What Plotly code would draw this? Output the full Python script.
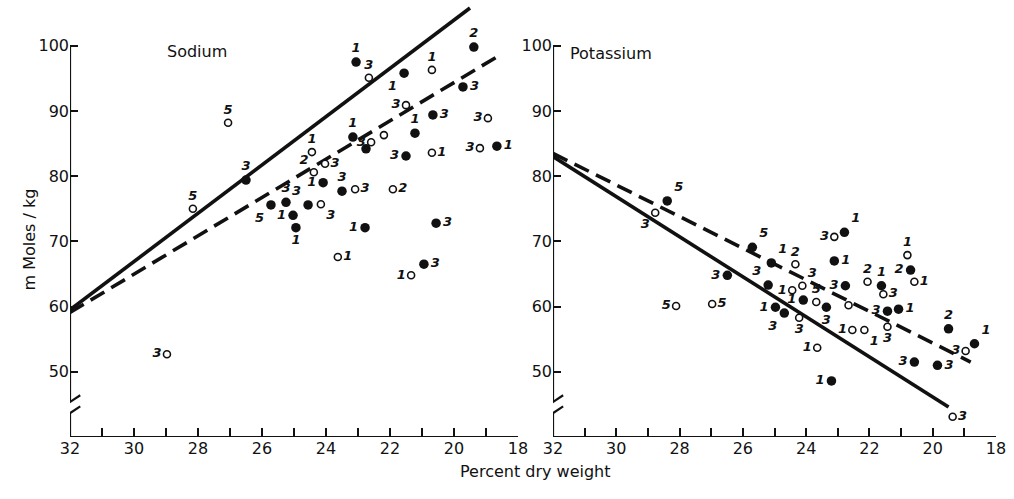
import plotly.graph_objects as go

# ---------------- Sodium panel data ----------------
na_x = [23.06, 22.66, 21.56, 20.69, 19.38, 19.72, 21.50, 20.66, 18.94, 27.06,
        23.16, 22.59, 22.75, 22.19, 21.22, 21.50, 20.69, 19.19, 18.66, 24.44,
        24.03, 24.38, 26.50, 24.09, 23.50, 23.09, 21.91, 28.16, 25.72, 25.25,
        24.56, 24.16, 25.03, 24.94, 22.78, 20.56, 23.63, 20.94, 21.34, 28.97]
na_y = [97.5, 95.1, 95.8, 96.3, 99.8, 93.7, 90.9, 89.4, 88.9, 88.2,
        86.0, 85.2, 84.2, 86.3, 86.6, 83.1, 83.6, 84.3, 84.6, 83.7,
        81.9, 80.6, 79.4, 79.0, 77.7, 78.0, 78.0, 75.0, 75.6, 76.0,
        75.6, 75.7, 74.0, 72.1, 72.1, 72.8, 67.6, 66.5, 64.8, 52.7]
na_filled = [1, 0, 1, 0, 1, 1, 0, 1, 0, 0,
             1, 0, 1, 0, 1, 1, 0, 0, 1, 0,
             0, 0, 1, 1, 1, 0, 0, 0, 1, 1,
             1, 0, 1, 1, 1, 1, 0, 1, 0, 0]
na_label = ["1", "3", "1", "1", "2", "3", "3", "3", "3", "5",
            "1", "3", "", "", "1", "3", "1", "3", "1", "1",
            "3", "2", "3", "1", "3", "3", "2", "5", "5", "3",
            "3", "3", "1", "1", "1", "3", "1", "3", "1", "3"]

# ---------------- Potassium panel data ----------------
k_x = [28.39, 28.77, 25.70, 26.49, 25.10, 24.34, 23.11, 22.79, 23.11, 25.20,
       24.44, 24.12, 24.09, 23.68, 23.36, 24.97, 24.69, 24.22, 22.76, 22.66,
       22.06, 21.62, 21.56, 21.43, 21.08, 21.43, 20.80, 20.70, 20.58, 22.54,
       22.16, 28.11, 26.97, 23.65, 23.20, 20.58, 19.85, 19.50, 18.96, 18.68,
       19.37]
k_y = [76.2, 74.4, 69.1, 64.8, 66.7, 66.5, 70.7, 71.4, 67.0, 63.3,
       62.5, 63.2, 61.0, 60.7, 59.9, 59.9, 59.0, 58.3, 63.2, 60.2,
       63.8, 63.2, 61.9, 59.3, 59.6, 56.9, 67.9, 65.6, 63.8, 56.4,
       56.4, 60.1, 60.4, 53.7, 48.6, 51.5, 51.0, 56.6, 53.2, 54.3,
       43.1]
k_filled = [1, 0, 1, 1, 1, 0, 0, 1, 1, 1,
            0, 0, 1, 0, 1, 1, 1, 0, 1, 0,
            0, 1, 0, 1, 1, 0, 0, 1, 0, 0,
            0, 0, 0, 0, 1, 1, 1, 1, 0, 1,
            0]
k_label = ["5", "3", "5", "3", "1", "2", "3", "1", "1", "3",
           "1", "3", "1", "5", "3", "1", "3", "3", "3", "",
           "2", "1", "3", "3", "1", "3", "1", "2", "1", "1",
           "1", "5", "5", "1", "1", "3", "3", "2", "3", "1",
           "3"]

# Regression lines (end points)
na_solid_x, na_solid_y = [32, 19.5], [59.5, 105.8]
na_dash_x, na_dash_y = [32, 18.66], [59.1, 98.3]
k_solid_x, k_solid_y = [32, 19.5], [83.0, 44.6]
k_dash_x, k_dash_y = [32, 18.8], [83.5, 51.5]

# Axis ticks
x_tick_vals = list(range(18, 33))
x_tick_labels = [str(v) if v % 2 == 0 else "" for v in x_tick_vals]
y_tick_vals = [50, 60, 70, 80, 90, 100]
y_tick_labels = ["50", "60", "70", "80", "90", "100"]

# Label placement around each marker
na_pos = ["top center", "top center", "bottom left", "top center", "top center",
          "middle right", "middle left", "middle right", "middle left", "top center",
          "top center", "middle left", "top center", "top center", "top center",
          "middle left", "middle right", "middle left", "middle right", "top center",
          "middle right", "top left", "top center", "middle left", "top center",
          "middle right", "middle right", "top center", "bottom left", "top center",
          "top left", "bottom right", "middle left", "bottom center", "middle left",
          "middle right", "middle right", "middle right", "middle left", "middle left"]
k_pos = ["top right", "bottom left", "top right", "middle left", "top right",
         "top center", "middle left", "top right", "middle right", "top left",
         "middle left", "top right", "middle left", "top center", "bottom center",
         "middle left", "bottom left", "bottom center", "middle left", "top center",
         "top center", "top center", "middle right", "middle left", "middle right",
         "bottom center", "top center", "middle left", "middle right", "middle left",
         "bottom right", "middle left", "middle right", "middle left", "middle left",
         "middle left", "middle right", "top center", "middle left", "top right",
         "middle right"]

INK = "#111111"
FONT = "DejaVu Sans"

fig = go.Figure()


def add_points(xs, ys, filled, labels, pos, xa, ya):
    for flag in (1, 0):
        idx = [i for i, f in enumerate(filled) if f == flag]
        fig.add_trace(go.Scatter(
            x=[xs[i] for i in idx], y=[ys[i] for i in idx],
            mode="markers+text",
            text=[labels[i] for i in idx],
            textposition=[pos[i] for i in idx],
            textfont=dict(family=FONT, size=13, color=INK, style="italic", weight="bold"),
            marker=dict(size=9.5 if flag else 7,
                        color=INK if flag else "white",
                        line=dict(color=INK, width=0 if flag else 1.6)),
            xaxis=xa, yaxis=ya, showlegend=False, cliponaxis=False,
        ))


def add_line(xs, ys, dash, xa, ya):
    fig.add_trace(go.Scatter(
        x=xs, y=ys, mode="lines",
        line=dict(color=INK, width=3.6, dash=dash),
        xaxis=xa, yaxis=ya, showlegend=False, cliponaxis=False,
    ))


add_line(na_solid_x, na_solid_y, "solid", "x", "y")
add_line(na_dash_x, na_dash_y, "16px,8px", "x", "y")
add_line(k_solid_x, k_solid_y, "solid", "x2", "y2")
add_line(k_dash_x, k_dash_y, "16px,8px", "x2", "y2")
add_points(na_x, na_y, na_filled, na_label, na_pos, "x", "y")
add_points(k_x, k_y, k_filled, k_label, k_pos, "x2", "y2")

Y_TOP = 40 + 435 / 6.52

xaxis_common = dict(
    range=[32, 18], tickmode="array", tickvals=x_tick_vals, ticktext=x_tick_labels,
    ticks="inside", ticklen=9, tickwidth=1.6, tickcolor=INK,
    showline=False, showgrid=False, zeroline=False,
    tickfont=dict(family=FONT, size=16, color=INK), automargin=False,
)
yaxis_common = dict(
    range=[40, Y_TOP], tickmode="array", tickvals=y_tick_vals, ticktext=y_tick_labels,
    ticks="inside", ticklen=8, tickwidth=1.8, tickcolor=INK,
    showline=False, showgrid=False, zeroline=False,
    tickfont=dict(family=FONT, size=16, color=INK), automargin=False,
)

fig.update_layout(
    width=1014, height=499,
    margin=dict(l=0, r=0, t=2, b=62),
    paper_bgcolor="white", plot_bgcolor="white",
    xaxis=dict(domain=[70 / 1014, 518 / 1014], anchor="y", **xaxis_common),
    yaxis=dict(domain=[0, 1], anchor="x", **yaxis_common),
    xaxis2=dict(domain=[553 / 1014, 996 / 1014], anchor="y2", **xaxis_common),
    yaxis2=dict(domain=[0, 1], anchor="x2", **yaxis_common),
)

# Axis lines with a break mark on the value axis
for xr, yr in (("x", "y"), ("x2", "y2")):
    line = dict(color=INK, width=2.2)
    fig.add_shape(type="line", xref=xr, yref=yr, x0=32, x1=18, y0=40, y1=40, line=line)
    fig.add_shape(type="line", xref=xr, yref=yr, x0=32, x1=32, y0=100, y1=45.4, line=line)
    fig.add_shape(type="line", xref=xr, yref=yr, x0=32, x1=32, y0=43.7, y1=40, line=line)
    fig.add_shape(type="line", xref=xr, yref=yr, x0=32.27, x1=31.68, y0=44.5, y1=46.4, line=line)
    fig.add_shape(type="line", xref=xr, yref=yr, x0=32.27, x1=31.68, y0=42.8, y1=44.7, line=line)

txt = dict(family=FONT, size=16, color=INK)
fig.add_annotation(text="Sodium", xref="paper", yref="paper", x=165 / 1014, y=0.913,
                   showarrow=False, font=txt)
fig.add_annotation(text="Potassium", xref="paper", yref="paper", x=611 / 1014, y=0.908,
                   showarrow=False, font=txt)
fig.add_annotation(text="m Moles / kg", xref="paper", yref="paper", x=18 / 1014, y=0.453,
                   textangle=-90, showarrow=False, font=txt)
fig.add_annotation(text="Percent dry weight", xref="paper", yref="paper", x=535 / 1014,
                   y=-0.106, showarrow=False, font=txt)

fig.write_html("out.html")
